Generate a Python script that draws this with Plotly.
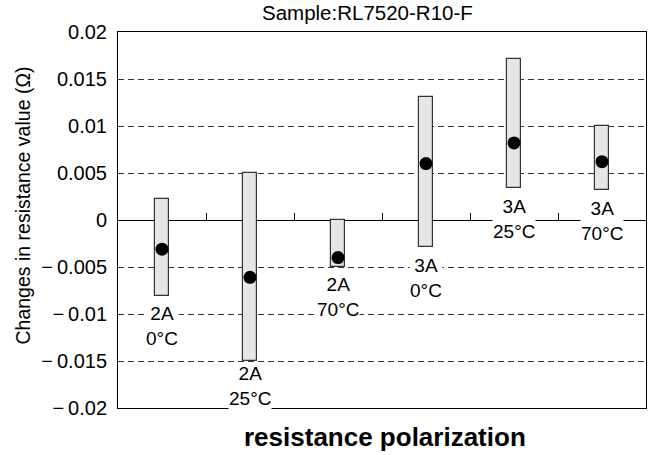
import plotly.graph_objects as go

categories = ["2A<br>0°C", "2A<br>25°C", "2A<br>70°C", "3A<br>0°C", "3A<br>25°C", "3A<br>70°C"]
range_low = [-0.0081, -0.0150, -0.0050, -0.0029, 0.0034, 0.0032]
range_high = [0.0022, 0.0050, 0.0000, 0.0131, 0.0171, 0.0100]
mean_values = [-0.0031, -0.0061, -0.0040, 0.0060, 0.0082, 0.0062]
y_tick_vals = [0.02, 0.015, 0.01, 0.005, 0, -0.005, -0.01, -0.015, -0.02]
y_tick_text = ["0.02", "0.015", "0.01", "0.005", "0",
               "\u2212\u20090.005", "\u2212\u20090.01", "\u2212\u20090.015", "\u2212\u20090.02"]
title_text = "Sample:RL7520-R10-F"
x_title = "resistance polarization"
y_title = "Changes in resistance value (\u03a9)"

# styling: pixel offsets of the category labels below each range bar
label_shift = [-6, -1, -6, -7, -7, -7]

FONT = "Liberation Sans, Arial, sans-serif"
idx = list(range(len(categories)))

fig = go.Figure()
fig.add_trace(go.Bar(
    x=idx,
    y=[h - l for h, l in zip(range_high, range_low)],
    base=range_low,
    width=0.16,
    marker=dict(color="#e6e6e6", line=dict(color="#333333", width=1.2)),
    showlegend=False,
    hoverinfo="skip",
))
fig.add_trace(go.Scatter(
    x=idx, y=mean_values, mode="markers",
    marker=dict(color="black", size=13),
    showlegend=False,
))
fig.add_trace(go.Scatter(x=[idx[0]], y=[0], xaxis="x2", mode="markers",
                         marker=dict(opacity=0), showlegend=False, hoverinfo="skip"))

for i, (lab, lo) in enumerate(zip(categories, range_low)):
    fig.add_annotation(x=i, y=lo, text=lab, showarrow=False, xref="x", yref="y",
                       yanchor="top", yshift=label_shift[i], bgcolor="white", borderpad=0,
                       font=dict(family=FONT, size=19, color="black"))

fig.add_annotation(x=(367.5 - 118) / 528, y=1, xref="paper", yref="paper",
                   text=title_text, showarrow=False, yanchor="middle", yshift=20,
                   font=dict(family=FONT, size=20.5, color="black"))
fig.add_annotation(x=(385 - 118) / 528, y=0, xref="paper", yref="paper",
                   text="<b>" + x_title + "</b>", showarrow=False, yanchor="middle", yshift=-29,
                   font=dict(family=FONT, size=26, color="black"))
fig.add_annotation(x=0, y=(408 - 205.5) / 376, xref="paper", yref="paper",
                   text=y_title, showarrow=False, textangle=-90, xanchor="center",
                   yanchor="middle", xshift=-96,
                   font=dict(family=FONT, size=19.5, color="black"))

fig.update_layout(
    width=652, height=455,
    margin=dict(l=118, r=6, t=32, b=47, autoexpand=False),
    paper_bgcolor="white", plot_bgcolor="white",
    font=dict(family=FONT, size=18, color="black"),
    bargap=0,
    xaxis=dict(range=[-0.5, len(categories) - 0.5], showticklabels=False, ticks="",
               showgrid=False, zeroline=False, showline=True, linecolor="black",
               linewidth=1, mirror=True, automargin=False),
    xaxis2=dict(range=[-0.5, len(categories) - 0.5], overlaying="x", anchor="free",
                position=0.5, side="top", showticklabels=False, ticks="outside",
                tickvals=[i + 0.5 for i in idx[:-1]], ticklen=7, tickcolor="black",
                showgrid=False, zeroline=False, showline=True, linecolor="black",
                linewidth=1, layer="below traces", automargin=False),
    yaxis=dict(range=[-0.02, 0.02], tickvals=y_tick_vals, ticktext=y_tick_text,
               ticks="", ticklabelstandoff=6, showgrid=True, gridcolor="#333333",
               griddash="6px,4px", gridwidth=1, zeroline=False, showline=True,
               linecolor="black", linewidth=1, mirror=True, automargin=False,
               tickfont=dict(family=FONT, size=20, color="black")),
)

fig.write_html("out.html", config={"displayModeBar": False},
               post_script="document.body.style.margin='0px';document.body.style.padding='0px';")
